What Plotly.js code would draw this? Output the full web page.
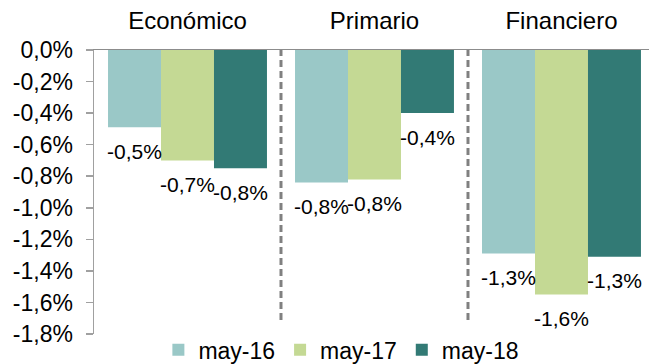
<!DOCTYPE html>
<html>
<head>
<meta charset="utf-8">
<script src="https://cdn.plot.ly/plotly-3.0.1.min.js"></script>
<style>html,body{margin:0;padding:0;background:#fff;}</style>
</head>
<body>
<div id="chart" style="width:649px;height:364px;"></div>
<script>
const categories = ["Económico", "Primario", "Financiero"];
const seriesNames = ["may-16", "may-17", "may-18"];
const may16 = [-0.49, -0.84, -1.29];
const may17 = [-0.70, -0.82, -1.55];
const may18 = [-0.75, -0.40, -1.31];
const seriesColors = ["#9AC8C7", "#C4D994", "#327A75"];
const yTickVals = [0, -0.2, -0.4, -0.6, -0.8, -1.0, -1.2, -1.4, -1.6, -1.8];
const yTickText = ["0,0%", "-0,2%", "-0,4%", "-0,6%", "-0,8%", "-1,0%", "-1,2%", "-1,4%", "-1,6%", "-1,8%"];

const fmt = v => v.toFixed(1).replace('.', ',') + '%';
const FONT = '"Liberation Sans", Arial, sans-serif';

const allSeries = [may16, may17, may18];
const traces = allSeries.map((vals, i) => ({
  type: 'bar',
  name: seriesNames[i],
  x: categories,
  y: vals,
  marker: {color: seriesColors[i]},
  hoverinfo: 'skip'
}));

// data labels placed under each bar end, through the axes
const BAR_PX = 53;
const annotations = [];
allSeries.forEach((vals, i) => {
  vals.forEach((v, j) => {
    annotations.push({
      x: categories[j], y: v, xref: 'x', yref: 'y',
      text: fmt(v), showarrow: false,
      xshift: (i - 1) * BAR_PX, yshift: -24,
      xanchor: 'center', yanchor: 'middle',
      font: {family: FONT, size: 21, color: '#000'}
    });
  });
});

const dashColor = '#808080';
const separators = [0.5, 1.5].map(xv => ({
  type: 'line', xref: 'x', yref: 'y',
  x0: xv, x1: xv, y0: 0.146, y1: -1.724,
  line: {color: dashColor, width: 3, dash: '7px,4px'}
}));

const layout = {
  width: 649, height: 364,
  margin: {l: 94, r: 0, t: 50, b: 30, autoexpand: false},
  paper_bgcolor: '#fff', plot_bgcolor: '#fff',
  font: {family: FONT, color: '#000'},
  barmode: 'group',
  bargap: 0.15, bargroupgap: 0,
  showlegend: true,
  legend: {
    orientation: 'h', x: 0.116, xanchor: 'left', y: -0.056, yanchor: 'middle',
    font: {family: FONT, size: 23, color: '#000'},
    itemwidth: 30, tracegroupgap: 0, bgcolor: 'rgba(0,0,0,0)'
  },
  xaxis: {
    type: 'category', side: 'top', range: [-0.5, 2.468],
    showline: true, linecolor: '#8c8c8c', linewidth: 1.5,
    ticks: '', showgrid: false, zeroline: false,
    tickfont: {family: FONT, size: 24, color: '#000'},
    ticklabelstandoff: 10,
    fixedrange: true
  },
  yaxis: {
    range: [-1.8, 0], tickvals: yTickVals, ticktext: yTickText,
    ticks: 'outside', ticklen: 7, tickcolor: '#a0a0a0', tickwidth: 1.5,
    showline: true, linecolor: '#a0a0a0', linewidth: 1.5,
    showgrid: false, zeroline: false,
    tickfont: {family: FONT, size: 23, color: '#000'},
    ticklabelstandoff: 8,
    fixedrange: true
  },
  shapes: separators,
  annotations: annotations
};

Plotly.newPlot('chart', traces, layout, {displayModeBar: false, staticPlot: true});
</script>
</body>
</html>
